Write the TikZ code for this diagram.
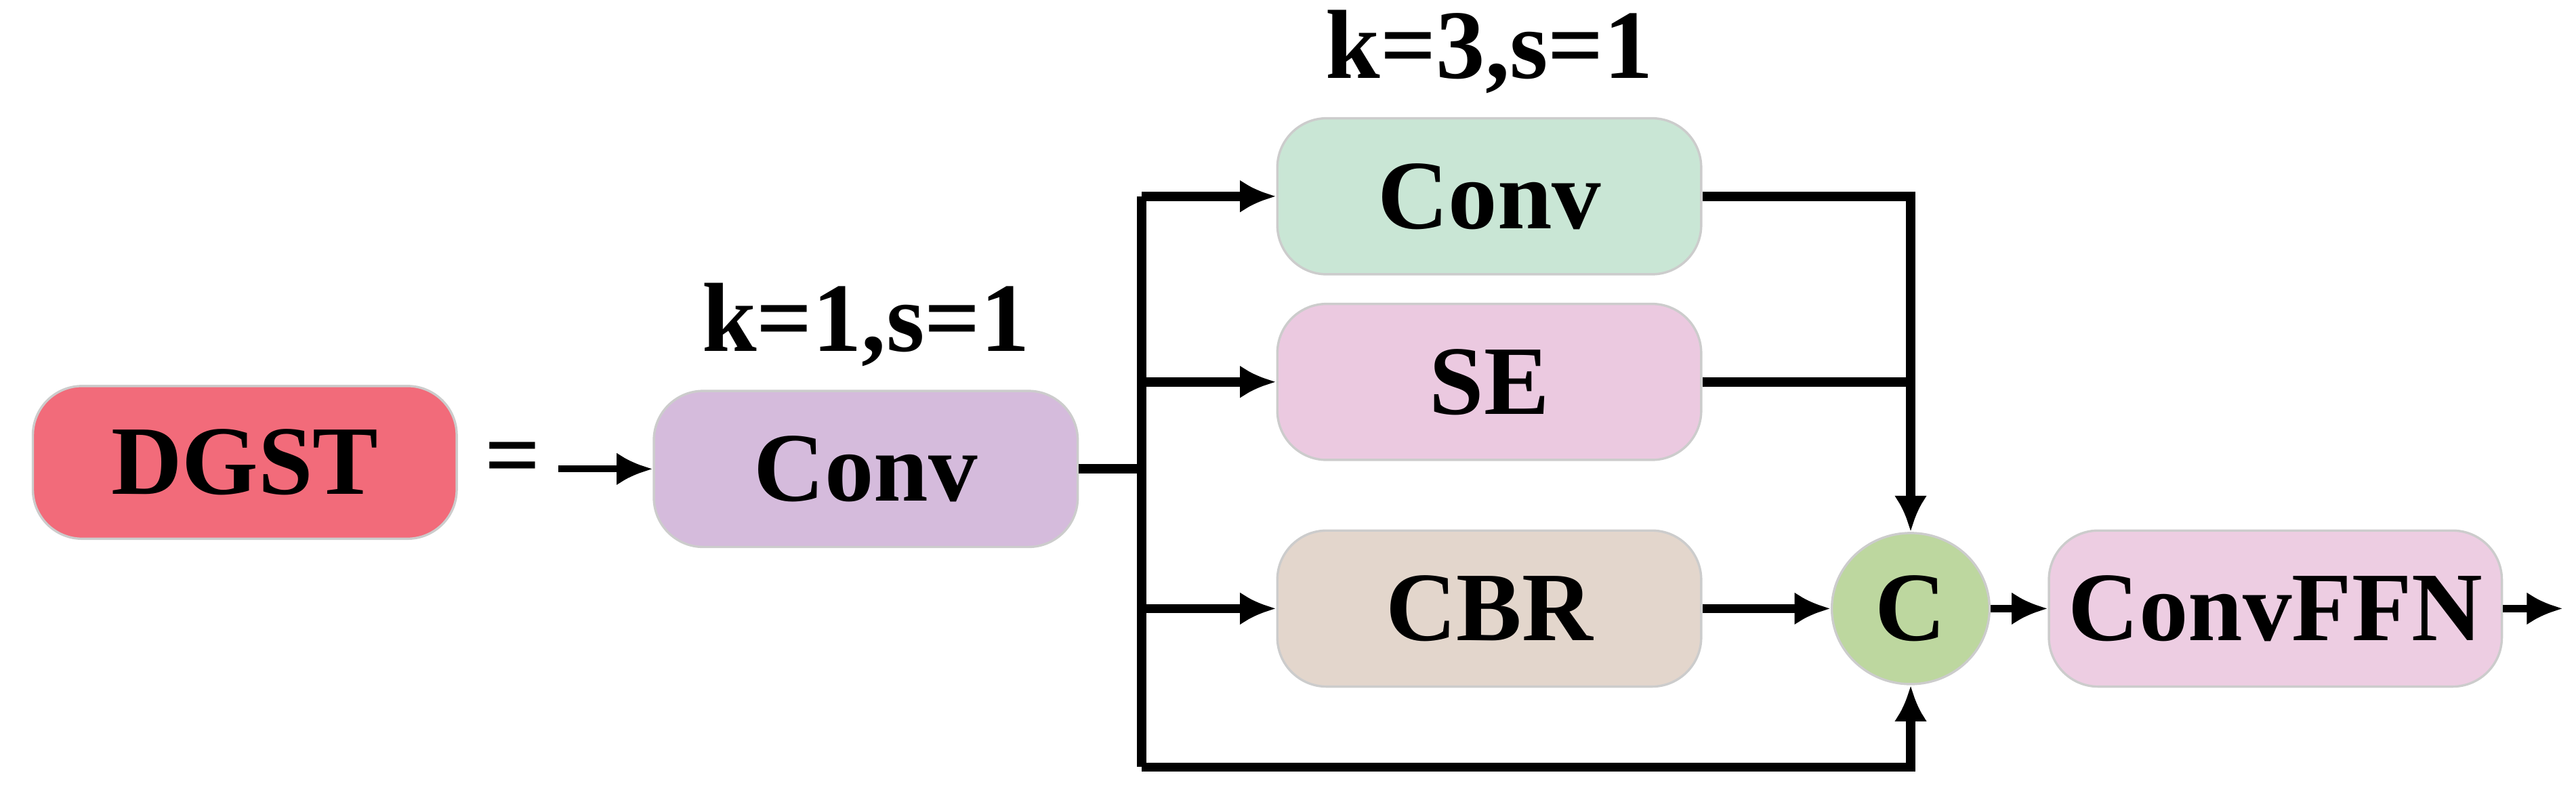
\documentclass[tikz,border=0pt]{standalone}
\usepackage{fontspec}
\setmainfont{Liberation Serif}
\usetikzlibrary{positioning, shapes.geometric, arrows.meta}

\definecolor{dgstc}{HTML}{F26B7A}
\definecolor{conva}{HTML}{D5BBDC}
\definecolor{convb}{HTML}{C9E6D5}
\definecolor{sec}{HTML}{EBC9E0}
\definecolor{cbrc}{HTML}{E3D6CC}
\definecolor{catc}{HTML}{BDD79F}
\definecolor{ffnc}{HTML}{EDCDE2}

\tikzset{
  blk/.style = {draw=gray!40, rounded corners=0.3cm, minimum width=2.58cm, minimum height=0.95cm,
    font=\fontsize{17}{20}\selectfont\bfseries},
  lbl/.style = {font=\fontsize{17}{20}\selectfont\bfseries},
  arr/.style = {line width=1.6pt, -{Latex[length=0.22cm, width=0.2cm]}},
  ln/.style = {line width=1.6pt}
}

\begin{document}
\begin{tikzpicture}
  \useasboundingbox (0, 0) rectangle (15.68, 4.87);

  % ブロック
  \node[blk, fill=dgstc, minimum height=0.93cm] (dgst) at (1.49, 2.055) {DGST};
  \node[lbl] (eq) at (3.12, 2.04) {=};
  \coordinate (in) at (3.40, 2.015);
  \node[blk, fill=conva] (conv1) at (5.27, 2.015) {Conv};
  \node[lbl, above=0.02cm of conv1] (k1) {k=1,s=1};

  \node[blk, fill=convb] (conv2) at (9.065, 3.675) {Conv};
  \node[lbl, above=0.02cm of conv2] (k3) {k=3,s=1};
  \node[blk, fill=sec] (se) at (9.065, 2.545) {SE};
  \node[blk, fill=cbrc] (cbr) at (9.065, 1.165) {CBR};

  \node[ellipse, draw=gray!40, fill=catc, minimum width=0.96cm, minimum height=0.92cm,
    inner sep=0pt, lbl] (cat) at (11.63, 1.165) {C};
  \node[blk, fill=ffnc, minimum width=2.6cm] (ffn) at (13.85, 1.165) {ConvFFN};
  \coordinate (out) at (15.6, 1.165);

  % 分岐点
  \coordinate (sp) at (6.95, 2.015);
  \coordinate (bot) at (6.95, 0.20);

  % 矢印
  \draw[line width=1.2pt, -{Latex[length=0.22cm, width=0.2cm]}] (in) -- (conv1);
  \draw[ln] (conv1.east) -- (sp);
  \draw[ln] (sp |- conv2.west) -- (bot);
  \draw[arr] (sp |- conv2.west) -- (conv2.west);
  \draw[arr] (sp |- se.west) -- (se.west);
  \draw[arr] (sp |- cbr.west) -- (cbr.west);

  \draw[arr] (conv2.east) -| (cat.north);
  \draw[ln] (se.east) -- (se.east -| cat.north);
  \draw[arr] (cbr.east) -- (cat.west);
  \draw[arr] (bot) -| (cat.south);

  \draw[line width=1.2pt, -{Latex[length=0.22cm, width=0.2cm]}] (cat.east) -- (ffn.west);
  \draw[line width=1.2pt, -{Latex[length=0.22cm, width=0.2cm]}] (ffn.east) -- (out);
\end{tikzpicture}
\end{document}
